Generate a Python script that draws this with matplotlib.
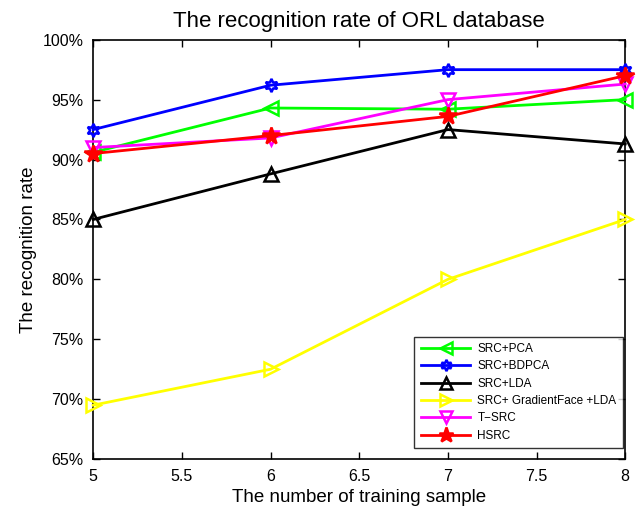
import matplotlib
matplotlib.use('Agg')
import matplotlib.pyplot as plt
from matplotlib.ticker import FuncFormatter

plt.rcParams['font.family'] = ['Liberation Sans', 'DejaVu Sans']

#training samples per subject
train_samples = [5, 6, 7, 8]

#recognition rates (%)
src_pca = [90.6, 94.3, 94.2, 95.0]
src_bdpca = [92.5, 96.2, 97.5, 97.5]
src_lda = [85.0, 88.8, 92.5, 91.3]
src_gf_lda = [69.5, 72.5, 80.0, 85.0]
t_src = [91.0, 91.8, 95.0, 96.3]
hsrc = [90.5, 92.0, 93.6, 97.0]

series = [
    ("SRC+PCA", src_pca, '#00ff00', '<', 'none'),
    ("SRC+BDPCA", src_bdpca, '#0000ff', (6, 1, 0), 'none'),
    ("SRC+LDA", src_lda, '#000000', '^', 'none'),
    ("SRC+ GradientFace +LDA", src_gf_lda, '#ffff00', '>', 'none'),
    ("T\u2212SRC", t_src, '#ff00ff', 'v', 'none'),
    ("HSRC", hsrc, '#ff0000', '*', '#ff0000'),
]

fig = plt.figure(figsize=(6.38, 5.09), dpi=100)
ax = fig.add_axes([0.146, 0.098, 0.834, 0.824])

for label, vals, color, marker, face in series:
    ms = 13 if marker == '*' else 9.5
    ax.plot(train_samples, vals, color=color, linewidth=2, marker=marker,
            markersize=ms, markerfacecolor=face, markeredgecolor=color,
            markeredgewidth=1.8, label=label, clip_on=False, zorder=3)

ax.set_xlim(5, 8)
ax.set_ylim(65, 100)
ax.set_xticks([5, 5.5, 6, 6.5, 7, 7.5, 8])
ax.set_xticklabels(['5', '5.5', '6', '6.5', '7', '7.5', '8'])
ax.set_yticks(range(65, 101, 5))
ax.yaxis.set_major_formatter(FuncFormatter(lambda v, p: f"{int(v)}%"))
ax.tick_params(direction='in', top=True, right=True, length=5, width=1,
               labelsize=11.5, pad=7)
for sp in ax.spines.values():
    sp.set_linewidth(1.2)

ax.set_title('The recognition rate of ORL database', fontsize=16, pad=9)
ax.set_xlabel('The number of training sample', fontsize=13.5)
ax.set_ylabel('The recognition rate', fontsize=13.5)

#legend sits just inside the lower right corner, as in the original
leg = ax.legend(loc='lower right', bbox_to_anchor=(0.996, 0.026),
                fontsize=8.5, frameon=True, fancybox=False,
                edgecolor='black', borderaxespad=0, handlelength=4.2,
                labelspacing=0.45, borderpad=0.55, markerscale=0.85,
                handletextpad=0.6)
leg.get_frame().set_linewidth(1.0)

fig.savefig('out.png', dpi=100)
